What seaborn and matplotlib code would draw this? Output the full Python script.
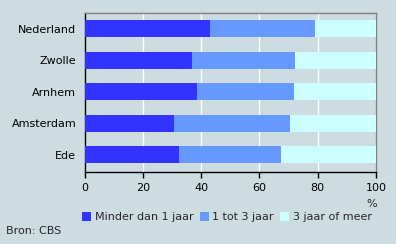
import matplotlib
matplotlib.use("Agg")
import matplotlib.pyplot as plt
import seaborn as sns
import pandas as pd
import numpy as np
from matplotlib.patches import Patch

categories = ["Nederland", "Zwolle", "Arnhem", "Amsterdam", "Ede"]
minder_1 = [43.0, 36.8, 38.6, 30.7, 32.4]
een_tot_3 = [36.1, 35.4, 33.3, 39.8, 35.0]
drie_meer = [20.9, 27.8, 28.1, 29.5, 32.6]
series_names = ["Minder dan 1 jaar", "1 tot 3 jaar", "3 jaar of meer"]
colors = ["#3333FF", "#6699FF", "#CCFFFF"]
xticks = [0, 20, 40, 60, 80, 100]

bg = "#CDDCE1"
fs = 8
sns.set_theme(style="white")
plt.rcParams["font.family"] = ["DejaVu Sans"]

fig = plt.figure(figsize=(3.96, 2.44), dpi=100, facecolor=bg)
ax = fig.add_axes([84.7/396, 1 - 171.7/244, (376 - 84.7)/396, (171.7 - 13)/244])
ax.set_facecolor(bg)

cum1 = np.array(minder_1)
cum2 = cum1 + np.array(een_tot_3)
cum3 = cum2 + np.array(drie_meer)
for vals, col in [(cum3, colors[2]), (cum2, colors[1]), (cum1, colors[0])]:
    df = pd.DataFrame({"cat": categories, "val": vals})
    sns.barplot(data=df, y="cat", x="val", color=col, orient="h", width=0.55,
                saturation=1, ax=ax, zorder=3, linewidth=0)

ax.set_xlim(0, 100)
ax.set_ylim(4.54, -0.5)
ax.set_xticks(xticks)
ax.set_xticklabels([str(t) for t in xticks], fontsize=fs, color="black")
ax.tick_params(axis="y", labelsize=fs, length=0, pad=6, colors="black")
ax.tick_params(axis="x", length=4, width=1, direction="out", color="black", pad=4, bottom=True)
ax.set_xlabel("")
ax.set_ylabel("")
ax.grid(axis="x", color="white", linewidth=1, zorder=0)
ax.set_axisbelow(True)
for s in ["left", "bottom"]:
    ax.spines[s].set_color("black")
    ax.spines[s].set_linewidth(1)
for s in ["top", "right"]:
    ax.spines[s].set_color("#808080")
    ax.spines[s].set_linewidth(1)

fig.text(372/396, 1 - 204/244, "%", fontsize=fs, ha="center", va="center")
handles = [Patch(facecolor=c, edgecolor="none", label=n) for c, n in zip(colors, series_names)]
fig.legend(handles=handles, loc="center left", bbox_to_anchor=(82/396, 1 - 217/244),
           ncol=3, frameon=False, fontsize=fs, handlelength=0.85, handleheight=0.85,
           handletextpad=0.3, columnspacing=0.55, borderaxespad=0, borderpad=0)
fig.text(6/396, 1 - 231/244, "Bron: CBS", fontsize=fs, ha="left", va="center")

fig.savefig("out.png", dpi=100, facecolor=bg)
